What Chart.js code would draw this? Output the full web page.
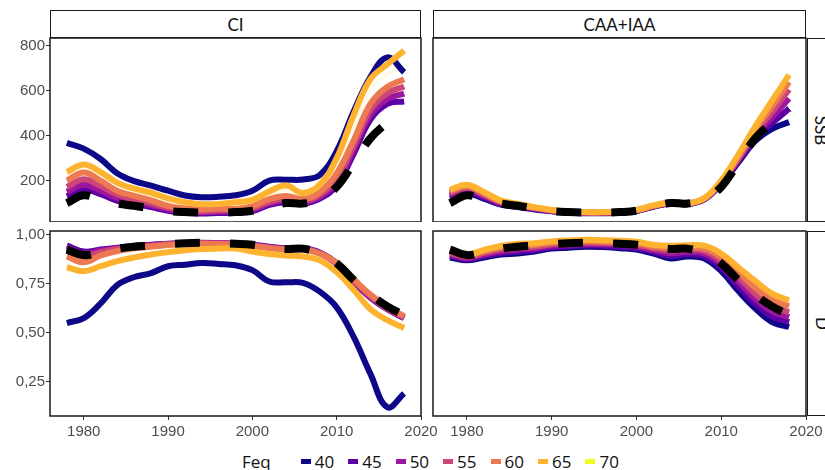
<!DOCTYPE html>
<html>
<head>
<meta charset="utf-8">
<script src="https://cdn.jsdelivr.net/npm/chart.js@4/dist/chart.umd.min.js"></script>
<style>
  html, body { margin: 0; padding: 0; background: #fff; }
  body { position: relative; width: 825px; height: 470px; overflow: hidden; }
  canvas { position: absolute; }
  #ci-ssb  { left: 0;     top: 30px; }
  #caa-ssb { left: 420px; top: 30px; }
  #ci-d    { left: 0;     top: 223px; }
  #caa-d   { left: 420px; top: 223px; }
  .strip {
    position: absolute; box-sizing: border-box; border: 1.5px solid #1a1a1a; background: #fff;
    display: flex; align-items: center; justify-content: center;
    font: 17px Lato, "Open Sans", sans-serif; color: #111;
  }
  .strip.side span { transform: rotate(90deg); white-space: nowrap; }
  #legend {
    position: absolute; left: 242px; top: 449px; height: 24px;
    display: flex; align-items: center; font: 17px "Open Sans", sans-serif; color: #111;
  }
  #legend .title { margin-right: 30px; }
  #legend .key { width: 10px; height: 5px; margin-right: 4px; }
  #legend .item { display: flex; align-items: center; margin-right: 14px; }
</style>
</head>
<body>

<div class="strip" style="left:50px; top:10px; width:371px; height:28px;">CI</div>
<div class="strip" style="left:433px; top:10px; width:373px; height:28px;">CAA+IAA</div>
<div class="strip side" style="left:807px; top:38px; width:30px; height:184px;"><span>SSB</span></div>
<div class="strip side" style="left:807px; top:231px; width:30px; height:185px;"><span>D</span></div>

<canvas id="ci-ssb" width="440" height="192"></canvas>
<canvas id="caa-ssb" width="405" height="192"></canvas>
<canvas id="ci-d" width="440" height="217"></canvas>
<canvas id="caa-d" width="405" height="217"></canvas>

<div id="legend"></div>

<script>
// === Data ===
const years = [1978, 1980, 1982, 1984, 1986, 1988, 1990, 1992, 1994, 1996, 1998,
               2000, 2002, 2004, 2006, 2008, 2010, 2012, 2014, 2016, 2018];

const feqLevels = ['40', '45', '50', '55', '60', '65', '70'];
const feqColors = ['#0d0887', '#5d01a6', '#9c179e', '#cc4678', '#ed7953', '#fdb32f', '#f0f921'];

const yearTicks = [1980, 1990, 2000, 2010, 2020];
const ssbTicks = [200, 400, 600, 800];
const dTicks = [0.25, 0.5, 0.75, 1.0];

// dashed reference line (same in both columns)
const refSsb = [100, 135, 115, 98, 88, 76, 65, 60, 58, 58, 60, 66, 85, 100, 98, 115, 172, 278, 388, 458, 520];
const refD = [0.925, 0.897, 0.912, 0.93, 0.94, 0.946, 0.953, 0.958, 0.96, 0.958, 0.955, 0.95, 0.938, 0.928, 0.93, 0.905, 0.855, 0.77, 0.695, 0.635, 0.59];

// CI - SSB
const ciSsb40 = [368, 342, 296, 232, 198, 178, 155, 134, 126, 128, 135, 155, 200, 204, 205, 225, 331, 506, 660, 748, 682];
const ciSsb45 = [130, 160, 140, 110, 98, 82, 66, 56, 54, 56, 57, 64, 92, 104, 97, 120, 178, 318, 471, 541, 552];
const ciSsb50 = [150, 182, 156, 122, 106, 90, 73, 62, 59, 62, 63, 71, 99, 112, 104, 128, 192, 338, 493, 563, 587];
const ciSsb55 = [172, 206, 176, 138, 118, 100, 80, 68, 64, 68, 68, 78, 106, 120, 110, 137, 210, 355, 515, 588, 618];
const ciSsb60 = [200, 236, 200, 154, 132, 112, 88, 76, 72, 76, 74, 86, 118, 132, 118, 148, 232, 378, 541, 616, 651];
const ciSsb65 = [238, 272, 238, 190, 164, 146, 121, 104, 95, 96, 104, 114, 152, 178, 145, 182, 300, 490, 651, 717, 778];
const ciSsb70 = [218, 254, 218, 172, 148, 128, 104, 90, 84, 86, 90, 100, 135, 156, 132, 166, 268, 440, 600, 672, 712];

// CAA+IAA - SSB
const caaSsb40 = [120, 144, 120, 93, 83, 72, 64, 57, 55, 55, 57, 65, 84, 98, 95, 116, 185, 280, 375, 430, 460];
const caaSsb45 = [130, 152, 126, 96, 85, 74, 65, 58, 56, 56, 58, 66, 85, 99, 96, 117, 188, 286, 388, 456, 520];
const caaSsb50 = [138, 160, 132, 100, 88, 76, 66, 59, 57, 57, 59, 67, 86, 100, 97, 118, 191, 292, 400, 482, 565];
const caaSsb55 = [146, 168, 138, 104, 90, 78, 67, 60, 58, 58, 60, 68, 87, 101, 98, 119, 194, 298, 412, 505, 605];
const caaSsb60 = [153, 175, 144, 108, 93, 80, 68, 61, 59, 59, 61, 69, 88, 102, 99, 120, 197, 305, 425, 530, 638];
const caaSsb65 = [160, 182, 150, 112, 96, 82, 70, 62, 60, 60, 62, 70, 90, 104, 100, 122, 200, 315, 440, 555, 670];
const caaSsb70 = [158, 180, 148, 111, 95, 81, 69, 61, 59, 59, 61, 69, 89, 103, 99, 121, 199, 312, 436, 548, 660];

// CI - D
const ciD40 = [0.55, 0.575, 0.65, 0.745, 0.785, 0.805, 0.84, 0.848, 0.856, 0.852, 0.845, 0.82, 0.762, 0.758, 0.755, 0.71, 0.63, 0.48, 0.29, 0.12, 0.19];
const ciD45 = [0.945, 0.915, 0.925, 0.935, 0.945, 0.95, 0.955, 0.958, 0.96, 0.958, 0.955, 0.95, 0.94, 0.932, 0.932, 0.91, 0.855, 0.76, 0.68, 0.62, 0.575];
const ciD50 = [0.935, 0.905, 0.92, 0.932, 0.942, 0.948, 0.954, 0.957, 0.958, 0.957, 0.954, 0.948, 0.937, 0.93, 0.93, 0.908, 0.853, 0.762, 0.682, 0.622, 0.578];
const ciD55 = [0.92, 0.89, 0.912, 0.928, 0.938, 0.945, 0.952, 0.956, 0.957, 0.956, 0.952, 0.945, 0.935, 0.928, 0.928, 0.906, 0.855, 0.768, 0.688, 0.625, 0.58];
const ciD60 = [0.89, 0.86, 0.895, 0.918, 0.932, 0.94, 0.948, 0.953, 0.955, 0.953, 0.95, 0.943, 0.933, 0.926, 0.926, 0.905, 0.858, 0.775, 0.695, 0.632, 0.585];
const ciD65 = [0.835, 0.815, 0.84, 0.866, 0.885, 0.9, 0.912, 0.922, 0.928, 0.93, 0.93, 0.915, 0.902, 0.895, 0.89, 0.87, 0.81, 0.72, 0.62, 0.565, 0.525];
const ciD70 = [0.837, 0.817, 0.842, 0.867, 0.886, 0.901, 0.913, 0.923, 0.929, 0.931, 0.93, 0.916, 0.903, 0.896, 0.891, 0.871, 0.812, 0.722, 0.623, 0.567, 0.527];

// CAA+IAA - D
const caaD40 = [0.885, 0.87, 0.885, 0.9, 0.905, 0.915, 0.93, 0.935, 0.94, 0.938, 0.932, 0.925, 0.905, 0.88, 0.89, 0.88, 0.815, 0.715, 0.625, 0.555, 0.53];
const caaD45 = [0.893, 0.876, 0.893, 0.908, 0.915, 0.923, 0.937, 0.942, 0.947, 0.945, 0.94, 0.933, 0.914, 0.893, 0.902, 0.893, 0.833, 0.738, 0.65, 0.583, 0.555];
const caaD50 = [0.901, 0.882, 0.9, 0.917, 0.925, 0.932, 0.944, 0.95, 0.954, 0.952, 0.948, 0.941, 0.923, 0.907, 0.914, 0.906, 0.851, 0.762, 0.675, 0.61, 0.58];
const caaD55 = [0.909, 0.888, 0.908, 0.926, 0.935, 0.94, 0.952, 0.957, 0.961, 0.959, 0.955, 0.949, 0.932, 0.92, 0.925, 0.918, 0.868, 0.787, 0.7, 0.638, 0.605];
const caaD60 = [0.917, 0.894, 0.916, 0.935, 0.945, 0.949, 0.96, 0.964, 0.968, 0.966, 0.963, 0.957, 0.941, 0.933, 0.935, 0.93, 0.886, 0.81, 0.73, 0.668, 0.635];
const caaD65 = [0.925, 0.9, 0.923, 0.943, 0.955, 0.958, 0.967, 0.971, 0.975, 0.973, 0.97, 0.965, 0.95, 0.945, 0.947, 0.945, 0.905, 0.835, 0.765, 0.7, 0.665];
const caaD70 = [0.923, 0.899, 0.921, 0.941, 0.953, 0.956, 0.965, 0.969, 0.973, 0.971, 0.968, 0.963, 0.948, 0.943, 0.945, 0.943, 0.902, 0.831, 0.76, 0.695, 0.66];

// === Panels ===
const panels = [
  { id: 'ci-ssb', series: [ciSsb40, ciSsb45, ciSsb50, ciSsb55, ciSsb60, ciSsb65, ciSsb70], ref: refSsb,
    yMin: 16, yMax: 834, yTicks: ssbTicks, showY: true, showX: false },
  { id: 'caa-ssb', series: [caaSsb40, caaSsb45, caaSsb50, caaSsb55, caaSsb60, caaSsb65, caaSsb70], ref: refSsb,
    yMin: 16, yMax: 834, yTicks: ssbTicks, showY: false, showX: false },
  { id: 'ci-d', series: [ciD40, ciD45, ciD50, ciD55, ciD60, ciD65, ciD70], ref: refD,
    yMin: 0.075, yMax: 1.02, yTicks: dTicks, showY: true, showX: true },
  { id: 'caa-d', series: [caaD40, caaD45, caaD50, caaD55, caaD60, caaD65, caaD70], ref: refD,
    yMin: 0.075, yMax: 1.02, yTicks: dTicks, showY: false, showX: true }
];

// the 70 line only shows as a pale streak in the figure
const pale70 = '#fdfbe4';

const tickFont = { family: '"Liberation Sans", Arial, sans-serif', size: 15 };

function toPoints(values) {
  return years.map((yr, i) => ({ x: yr, y: values[i] }));
}

function formatTick(v) {
  return v < 10 ? v.toFixed(2).replace('.', ',') : String(v);
}

// Panel border, like ggplot's panel.border
const panelBorder = {
  id: 'panelBorder',
  afterDraw(chart) {
    const { ctx, chartArea: a } = chart;
    ctx.save();
    ctx.strokeStyle = '#1a1a1a';
    ctx.lineWidth = 1.5;
    ctx.strokeRect(a.left, a.top, a.width, a.height);
    ctx.restore();
  }
};

function buildDatasets(panel) {
  const sets = [{
    data: toPoints(panel.ref),
    borderColor: '#000',
    borderWidth: 8,
    borderDash: [25, 30],
    borderCapStyle: 'butt',
    pointRadius: 0,
    tension: 0.4
  }];
  // higher Feq drawn over lower; 70 kept at the back
  [5, 4, 3, 2, 1, 0, 6].forEach(i => {
    sets.push({
      data: toPoints(panel.series[i]),
      borderColor: i === 6 ? pale70 : feqColors[i],
      borderWidth: i === 6 ? 3 : 6,
      borderJoinStyle: 'round',
      pointRadius: 0,
      tension: 0.4
    });
  });
  return sets;
}

function makePanel(panel) {
  const ctx = document.getElementById(panel.id).getContext('2d');
  new Chart(ctx, {
    type: 'line',
    data: { datasets: buildDatasets(panel) },
    options: {
      responsive: false,
      animation: false,
      events: [],
      layout: { padding: { left: panel.showY ? 0 : 13, right: 19, top: 8, bottom: 0 } },
      plugins: { legend: { display: false }, tooltip: { enabled: false } },
      scales: {
        x: {
          type: 'linear',
          min: 1976,
          max: 2020,
          display: panel.showX,
          afterBuildTicks: s => { s.ticks = yearTicks.map(v => ({ value: v })); },
          afterFit: s => {
            if (!panel.showX) return;
            s.height = 24; s.paddingLeft = 0; s.paddingRight = 0;
          },
          grid: { drawOnChartArea: false, tickLength: 4, color: '#333', tickColor: '#333' },
          border: { display: false },
          ticks: { color: '#4d4d4d', font: tickFont, padding: 3, maxRotation: 0, callback: v => String(v) }
        },
        y: {
          min: panel.yMin,
          max: panel.yMax,
          display: panel.showY,
          afterBuildTicks: s => { s.ticks = panel.yTicks.map(v => ({ value: v })); },
          afterFit: s => {
            if (!panel.showY) return;
            s.width = 50; s.paddingTop = 0; s.paddingBottom = 0;
          },
          grid: { drawOnChartArea: false, tickLength: 4, color: '#333', tickColor: '#333' },
          border: { display: false },
          ticks: { color: '#4d4d4d', font: tickFont, padding: 1, callback: formatTick }
        }
      }
    },
    plugins: [panelBorder]
  });
}

// === Legend ===
function buildLegend() {
  const legend = document.getElementById('legend');
  const title = document.createElement('span');
  title.className = 'title';
  title.textContent = 'Feq';
  legend.appendChild(title);
  feqLevels.forEach((lvl, i) => {
    const item = document.createElement('span');
    item.className = 'item';
    const key = document.createElement('span');
    key.className = 'key';
    key.style.background = feqColors[i];
    const label = document.createElement('span');
    label.textContent = lvl;
    item.appendChild(key);
    item.appendChild(label);
    legend.appendChild(item);
  });
}

// === Initialize ===
panels.forEach(makePanel);
buildLegend();
</script>
</body>
</html>
